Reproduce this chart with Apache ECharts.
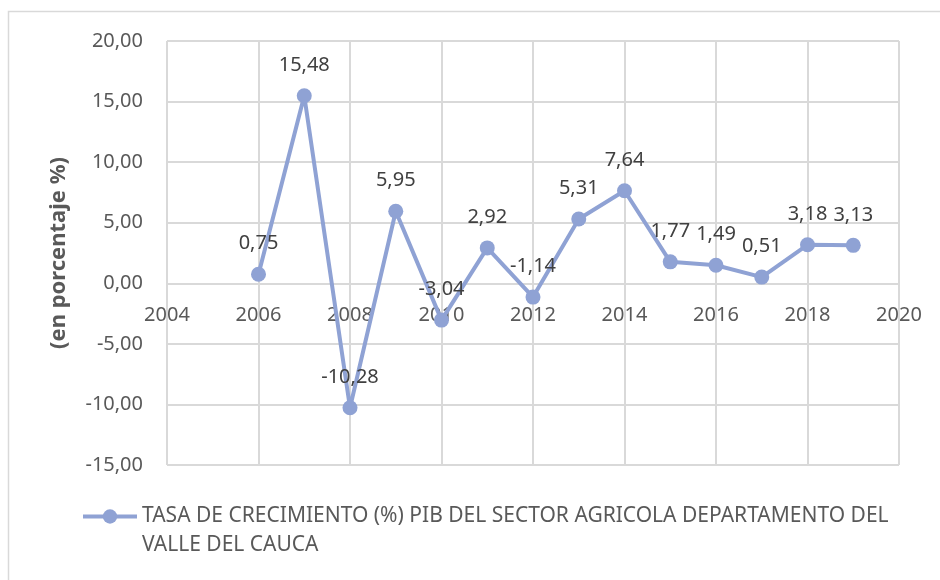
<!DOCTYPE html>
<html>
<head>
<meta charset="utf-8">
<script src="https://cdn.jsdelivr.net/npm/echarts@6/dist/echarts.min.js"></script>
<style>html,body{margin:0;padding:0;background:#fff}#c{width:940px;height:580px}</style>
</head>
<body>
<div id="c"></div>
<script>
const years = [2006, 2007, 2008, 2009, 2010, 2011, 2012, 2013, 2014, 2015, 2016, 2017, 2018, 2019];
const values = [0.75, 15.48, -10.28, 5.95, -3.04, 2.92, -1.14, 5.31, 7.64, 1.77, 1.49, 0.51, 3.18, 3.13];
const seriesName = 'TASA DE CRECIMIENTO (%) PIB DEL SECTOR AGRICOLA DEPARTAMENTO DEL VALLE DEL CAUCA';
const yAxisName = '(en porcentaje %)';
const yMin = -15, yMax = 20;

const FONT = 'Noto Sans';
const GRID = {left: 167, right: 41, top: 41, bottom: 115};
const plotH = 580 - GRID.top - GRID.bottom;
// shift x axis up from the bottom of the plot to the y = 0 line
const zeroOffset = -plotH * (0 - yMin) / (yMax - yMin);

const chart = echarts.init(document.getElementById('c'), null, {renderer: 'canvas'});
const fmt = v => v.toFixed(2).replace('.', ',');
chart.setOption({
  animation: false,
  backgroundColor: '#fff',
  graphic: [{
    type: 'rect', shape: {x: 8.5, y: 11.5, width: 1000, height: 700},
    style: {fill: 'none', stroke: '#D9D9D9', lineWidth: 1.5}, silent: true
  }],
  grid: GRID,
  xAxis: {
    type: 'value', min: 2004, max: 2020, interval: 2,
    position: 'bottom', offset: zeroOffset,
    axisLine: {show: true, onZero: false, lineStyle: {color: '#D9D9D9', width: 2}},
    axisTick: {show: false},
    axisLabel: {color: '#595959', fontFamily: FONT, fontSize: 20, margin: 22, formatter: v => String(v)},
    splitLine: {show: true, lineStyle: {color: '#D9D9D9', width: 2}}
  },
  yAxis: {
    type: 'value', min: yMin, max: yMax, interval: 5,
    name: yAxisName, nameLocation: 'middle', nameGap: 97,
    nameTextStyle: {color: '#595959', fontFamily: FONT, fontSize: 22, fontWeight: 'bold'},
    axisLine: {show: false, onZero: false}, axisTick: {show: false},
    axisLabel: {color: '#595959', fontFamily: FONT, fontSize: 20, margin: 24, formatter: v => fmt(v)},
    splitLine: {show: true, lineStyle: {color: '#D9D9D9', width: 2}}
  },
  legend: {
    left: 81, top: 473, padding: 0, itemWidth: 54, itemHeight: 18, itemGap: 8,
    lineStyle: {width: 4},
    // leading blank line keeps the marker aligned with the first text line
    formatter: n => '\n' + n,
    textStyle: {color: '#595959', fontFamily: FONT, fontSize: 21, width: 760, overflow: 'break', lineHeight: 29},
    data: [seriesName]
  },
  series: [{
    name: seriesName, type: 'line',
    data: years.map((y, i) => [y, values[i]]),
    symbol: 'circle', symbolSize: 15,
    lineStyle: {color: '#8FA2D4', width: 4},
    itemStyle: {color: '#8FA2D4'},
    label: {show: true, position: 'top', distance: 13, color: '#404040', fontFamily: FONT, fontSize: 20,
      formatter: p => fmt(p.value[1])}
  }]
});
</script>
</body>
</html>
